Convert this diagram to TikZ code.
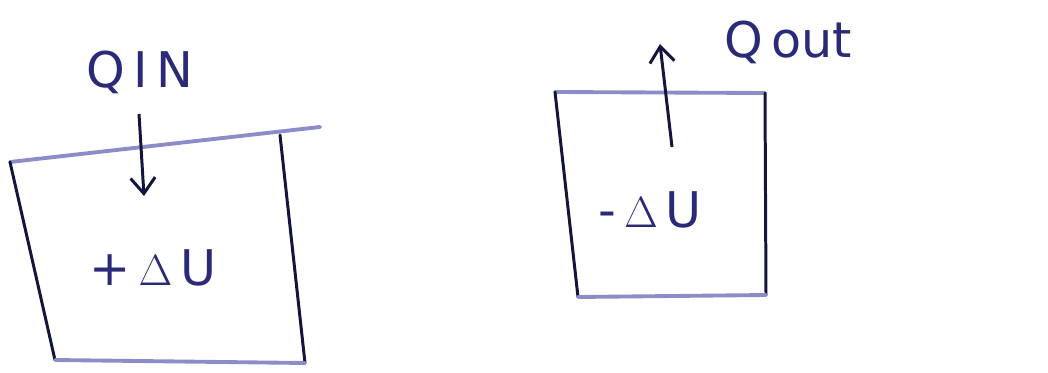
\documentclass[tikz,border=0pt]{standalone}
\usepackage{fontspec}
\setmainfont{DejaVu Sans}
\usetikzlibrary{arrows.meta, positioning}
\definecolor{inkdark}{HTML}{14143C}
\definecolor{inkpale}{HTML}{8C8CC8}
\definecolor{inkblue}{HTML}{2A2A78}

\begin{document}
\begin{tikzpicture}[
  x=0.02cm, y=-0.02cm,
  wall/.style={draw=inkdark, line width=1.7pt, line cap=round},
  lid/.style={draw=inkpale, line width=2.2pt, line cap=round},
  flow/.style={draw=inkdark, line width=1.7pt, -{Straight Barb[length=9pt, width=14pt]}},
  handtext/.style={text=inkblue, font=\fontsize{28}{32}\selectfont, inner sep=0pt},
]
  \useasboundingbox (0,0) rectangle (1048,372);

  % Heat in
  \coordinate (tl1) at (10,162);
  \coordinate (tr1) at (320,127);
  \coordinate (rt1) at (280,135);
  \coordinate (lb1) at (55,360);
  \coordinate (rb1) at (305,363);
  \draw[lid] (tl1) -- (tr1);
  \draw[wall] (tl1) -- (lb1);
  \draw[wall] (rt1) -- (rb1);
  \draw[lid] (lb1) -- (rb1);
  \node[handtext] (qin) at (140,72) {Q\,I\,N};
  \coordinate (in0) at (139,114);
  \coordinate (in1) at (144,196);
  \draw[flow] (in0) -- (in1);
  \node[handtext] (dup) at (153,268) {+\,$\Delta$\,U};

  % Heat out
  \coordinate (tl2) at (555,92);
  \coordinate (tr2) at (765,93);
  \coordinate (lb2) at (578,297);
  \coordinate (rb2) at (766,295);
  \draw[lid] (tl2) -- (tr2);
  \draw[wall] (tl2) -- (lb2);
  \draw[wall] (tr2) -- (rb2);
  \draw[lid] (lb2) -- (rb2);
  \coordinate (out0) at (672,147);
  \coordinate (out1) at (660,44);
  \draw[flow] (out0) -- (out1);
  \node[handtext] (qout) at (788,42) {Q\,out};
  \node[handtext] (ddown) at (650,210) {-\,$\Delta$\,U};
\end{tikzpicture}
\end{document}
